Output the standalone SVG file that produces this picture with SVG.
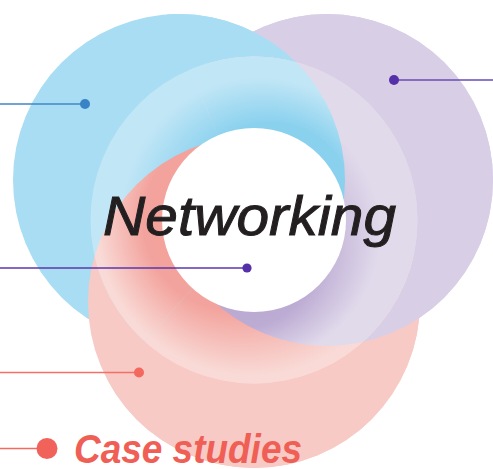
<svg xmlns="http://www.w3.org/2000/svg" width="493" height="469" viewBox="0 0 493 469">
  <style>
    .blue { fill: #A8DDF3; }
    .pink { fill: #F7CAC5; }
    .violet { fill: #D8CEE6; }
    .rblue { fill: url(#gB); }
    .rpink { fill: url(#gP); }
    .rviolet { fill: url(#gV); }
    .title { font-family: "Liberation Sans", Arial, sans-serif; font-style: italic; font-size: 56px; fill: #231F20; stroke: #231F20; stroke-width: 1; }
    .label { font-family: "Liberation Sans", Arial, sans-serif; font-style: italic; font-weight: bold; font-size: 41px; fill: #EF5F56; }
    .ln { stroke-width: 1.4; fill: none; }
  </style>
  <defs>
    <clipPath id="w2"><polygon points="254,220 1500,220 1500,963 -415,963"/></clipPath>
    <clipPath id="w3"><polygon points="254,220 -137,-701 1500,-701 1500,220"/></clipPath>
    <clipPath id="ring"><circle cx="254" cy="220" r="163.5"/></clipPath>
    <radialGradient id="gB" gradientUnits="userSpaceOnUse" cx="254" cy="220" r="163.5" fx="288" fy="190">
      <stop offset="0" stop-color="#86CFEE"/>
      <stop offset="0.5" stop-color="#8AD1EE"/>
      <stop offset="0.84" stop-color="#C1E6F6"/>
      <stop offset="1" stop-color="#C1E6F6"/>
    </radialGradient>
    <radialGradient id="gP" gradientUnits="userSpaceOnUse" cx="254" cy="220" r="163.5" fx="207" fy="220">
      <stop offset="0" stop-color="#F29D97"/>
      <stop offset="0.55" stop-color="#F3A39D"/>
      <stop offset="0.95" stop-color="#F9DAD6"/>
      <stop offset="1" stop-color="#F9DAD6"/>
    </radialGradient>
    <radialGradient id="gV" gradientUnits="userSpaceOnUse" cx="254" cy="220" r="163.5" fx="232" fy="282">
      <stop offset="0" stop-color="#B9A7D1"/>
      <stop offset="0.45" stop-color="#BCABD3"/>
      <stop offset="0.8" stop-color="#E1DAEB"/>
      <stop offset="1" stop-color="#E1DAEB"/>
    </radialGradient>
  </defs>

  <g id="circles">
    <circle class="violet" cx="327" cy="180" r="166"/>
    <circle class="blue" cx="179" cy="180" r="166"/>
    <circle class="pink" cx="254" cy="302" r="166"/>
    <g clip-path="url(#w2)">
      <circle class="blue" cx="179" cy="180" r="166"/>
      <circle class="pink" cx="254" cy="302" r="166"/>
      <circle class="violet" cx="327" cy="180" r="166"/>
    </g>
    <g clip-path="url(#w3)">
      <circle class="pink" cx="254" cy="302" r="166"/>
      <circle class="violet" cx="327" cy="180" r="166"/>
      <circle class="blue" cx="179" cy="180" r="166"/>
    </g>
  </g>

  <g id="ring-layer" clip-path="url(#ring)">
    <circle class="rviolet" cx="327" cy="180" r="166"/>
    <circle class="rblue" cx="179" cy="180" r="166"/>
    <circle class="rpink" cx="254" cy="302" r="166"/>
    <g clip-path="url(#w2)">
      <circle class="rblue" cx="179" cy="180" r="166"/>
      <circle class="rpink" cx="254" cy="302" r="166"/>
      <circle class="rviolet" cx="327" cy="180" r="166"/>
    </g>
    <g clip-path="url(#w3)">
      <circle class="rpink" cx="254" cy="302" r="166"/>
      <circle class="rviolet" cx="327" cy="180" r="166"/>
      <circle class="rblue" cx="179" cy="180" r="166"/>
    </g>
  </g>

  <g id="hole">
    <circle cx="254" cy="220" r="92" fill="#FFFFFF"/>
  </g>

  <g id="title">
    <text class="title" x="103" y="235" textLength="293" lengthAdjust="spacingAndGlyphs">Networking</text>
  </g>

  <g id="connectors">
    <line class="ln" x1="0" y1="104" x2="85" y2="104" stroke="#3F87C8"/>
    <line class="ln" x1="394" y1="80" x2="493" y2="80" stroke="#6A4BB5"/>
    <line class="ln" x1="0" y1="268" x2="247" y2="268" stroke="#5B36AD"/>
    <line class="ln" x1="0" y1="372.5" x2="139" y2="372.5" stroke="#F47066"/>
    <line class="ln" x1="0" y1="448.5" x2="47" y2="448.5" stroke="#F26A60"/>
  </g>

  <g id="dot-blue"><circle cx="85" cy="104" r="5" fill="#3A84C5"/></g>
  <g id="dot-violet-top"><circle cx="394" cy="80" r="5" fill="#5530A8"/></g>
  <g id="dot-violet-mid"><circle cx="247" cy="268" r="4.6" fill="#5530A8"/></g>
  <g id="dot-pink"><circle cx="139" cy="372.5" r="5" fill="#F4695E"/></g>
  <g id="case-studies">
    <circle cx="47" cy="448.5" r="10.5" fill="#F0625A"/>
    <text class="label" x="74" y="462.5" textLength="228" lengthAdjust="spacingAndGlyphs">Case studies</text>
  </g>
</svg>
